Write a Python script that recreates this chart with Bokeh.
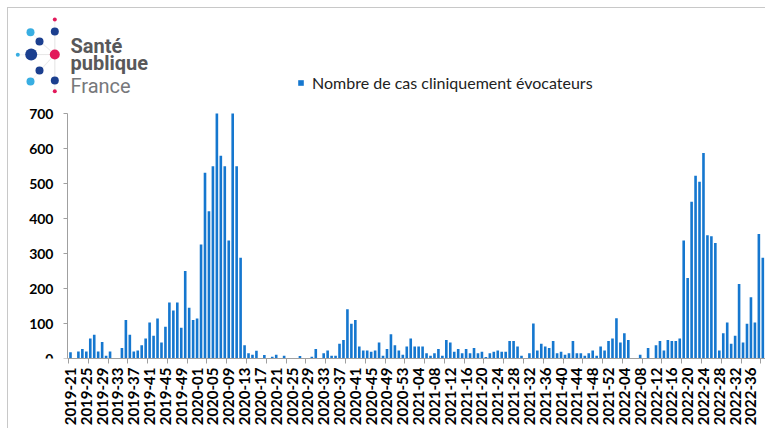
from bokeh.plotting import figure
from bokeh.models import (FixedTicker, Range1d, Label, BoxAnnotation, PolyAnnotation, Legend)
from bokeh.embed import file_html
from bokeh.resources import INLINE
import math

# ---- data ----
year_spans = [(2019, 21, 52), (2020, 1, 53), (2021, 1, 52), (2022, 1, 39)]
weeks = [f"{y}-{w:02d}" for (y, a, b) in year_spans for w in range(a, b + 1)]

cases = [
    18, 0, 20, 27, 20, 57, 68, 20, 47, 8,
    20, 0, 0, 30, 110, 68, 20, 23, 38, 57,
    103, 65, 114, 46, 91, 160, 137, 160, 88, 250,
    145, 110, 114, 326, 531, 421, 549, 700, 579, 549,
    337, 700, 549, 288, 38, 15, 11, 22, 0, 10,
    0, 5, 11, 0, 8, 0, 0, 0, 7, 0,
    0, 5, 27, 0, 15, 23, 8, 8, 42, 53,
    141, 99, 110, 34, 23, 23, 19, 23, 46, 8,
    27, 69, 38, 23, 11, 34, 57, 34, 34, 34,
    15, 8, 15, 27, 8, 53, 46, 19, 27, 15,
    27, 15, 30, 15, 19, 4, 15, 19, 23, 19,
    19, 50, 50, 34, 8, 0, 15, 100, 23, 42,
    34, 30, 50, 15, 19, 11, 15, 50, 15, 15,
    8, 15, 23, 8, 34, 23, 50, 57, 115, 46,
    72, 53, 0, 0, 11, 0, 30, 0, 38, 50,
    23, 53, 50, 50, 57, 337, 230, 448, 522, 505,
    587, 352, 349, 330, 23, 72, 103, 42, 65, 213,
    46, 99, 175, 103, 356, 288,
]
x_idx = list(range(len(cases)))
label_step = 4
tick_step = 5
y_ticks = [0, 100, 200, 300, 400, 500, 600, 700]
y_max = 700
legend_text = "Nombre de cas cliniquement évocateurs"

BAR = "#1577cf"
AXIS = "#a0a0a0"

X_START, X_END = -15.67, 175.93   # frame spans whole canvas width
AX_X = -0.76                      # where the value axis sits

p = figure(width=758, height=421, output_backend="svg", toolbar_location=None,
           x_range=Range1d(X_START, X_END), y_range=Range1d(0, 1000),
           min_border_left=0, min_border_right=0, min_border_top=0, min_border_bottom=71)
p.styles = {"margin-left": "7px", "margin-top": "7px",
            "border-left": "1px solid #c8c8c8", "border-top": "1px solid #c8c8c8"}
p.outline_line_color = None
p.xgrid.visible = False
p.ygrid.visible = False
p.background_fill_color = "white"

r = p.vbar(x=x_idx, top=cases, width=0.66, color=BAR, line_color=None)

# x axis
xa = p.xaxis[0]
xa.ticker = FixedTicker(ticks=x_idx[::label_step],
                        minor_ticks=[i - 0.5 for i in range(0, len(cases) + 1, tick_step)])
xa.major_label_overrides = {i: weeks[i] for i in x_idx[::label_step]}
xa.major_label_orientation = math.pi / 2
xa.bounds = (AX_X, X_END)
xa.major_tick_line_color = None
xa.major_tick_out = 5
xa.major_tick_in = 0
xa.minor_tick_line_color = AXIS
xa.minor_tick_out = 5
xa.minor_tick_in = 0
xa.axis_line_color = AXIS
xa.major_label_standoff = 4
xa.major_label_text_font = "Lato"
xa.major_label_text_font_style = "bold"
xa.major_label_text_font_size = "15px"
xa.major_label_text_color = "black"

# y axis
ya = p.yaxis[0]
ya.ticker = FixedTicker(ticks=y_ticks)
ya.fixed_location = AX_X
ya.bounds = (0, y_max)
ya.axis_line_color = AXIS
ya.major_tick_line_color = AXIS
ya.major_tick_out = 4
ya.major_tick_in = 0
ya.minor_tick_line_color = None
ya.major_label_standoff = 10
ya.major_label_text_font = "Lato"
ya.major_label_text_font_style = "bold"
ya.major_label_text_font_size = "14px"
ya.major_label_text_color = "black"

# ---- screen helpers: frame origin = canvas left, frame bottom ----
OX, OY = 8, 358     # page position of frame's left / bottom edge

leg = Legend(items=[(legend_text, [r])], location=(297 - OX, OY - 92), orientation="horizontal",
             glyph_width=7, glyph_height=7, label_standoff=8, padding=0, margin=0,
             label_height=16, border_line_color=None, background_fill_alpha=0,
             label_text_font="Lato", label_text_font_size="16px", label_text_color="#222222")
p.add_layout(leg, "center")

# ---- logo ----
DARK, LIGHT, PINK, GREY = "#1b3f8f", "#38aee2", "#e2195b", "#cfcfcf"
dots = [  # page x, page y, radius, colour
    (54.3, 19.0, 2, PINK), (30.0, 31.7, 4, LIGHT), (54.3, 31.0, 4, DARK),
    (39.0, 41.0, 4, DARK), (17.3, 54.3, 2, LIGHT), (30.7, 54.0, 6, DARK),
    (54.3, 54.0, 5, PINK), (39.0, 70.0, 4, DARK), (30.0, 81.0, 4, LIGHT),
    (54.3, 80.0, 4, DARK), (54.3, 90.7, 2, PINK),
]
cx, cy = 54.3, 54.0
for (dx, dy, rr, col) in dots:
    if (dx, dy) != (cx, cy):
        p.add_layout(PolyAnnotation(xs=[cx - OX, dx - OX], ys=[OY - cy, OY - dy],
                                    xs_units="screen", ys_units="screen",
                                    line_color=GREY, line_width=1, fill_alpha=0))
for (dx, dy, rr, col) in dots:
    p.add_layout(BoxAnnotation(left=dx - rr - OX, right=dx + rr - OX,
                               bottom=OY - dy - rr, top=OY - dy + rr,
                               left_units="screen", right_units="screen",
                               top_units="screen", bottom_units="screen",
                               fill_color=col, fill_alpha=1, line_color=None,
                               border_radius=int(rr)))

for txt, ypage, style, col in [("Santé", 45, "bold", "#58585a"),
                               ("publique", 62, "bold", "#58585a"),
                               ("France", 85, "normal", "#77787b")]:
    p.add_layout(Label(x=70 - OX, y=OY - ypage, x_units="screen", y_units="screen",
                       text=txt, text_font="Roboto", text_font_style=style,
                       text_font_size="20px", text_color=col, text_baseline="alphabetic"))

open("out.html", "w").write(file_html(p, INLINE))
